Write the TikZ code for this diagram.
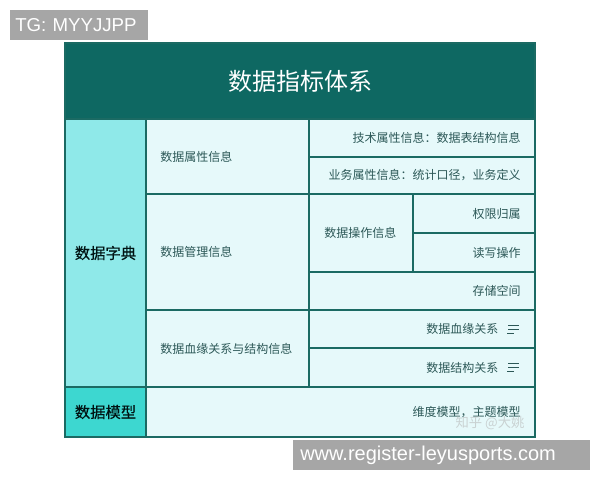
\documentclass[tikz,border=0pt]{standalone}
\usepackage{fontspec}
\setmainfont{Noto Sans CJK SC}
\newfontfamily\headfont[FakeBold=0.3]{Noto Sans CJK SC}
\newfontfamily\latinfont{Liberation Sans}
\usetikzlibrary{positioning}

\definecolor{headteal}{HTML}{0E6862}
\definecolor{gridteal}{HTML}{1B6A63}
\definecolor{dictcyan}{HTML}{8FE9E9}
\definecolor{modelcyan}{HTML}{3DD7D0}
\definecolor{palecell}{HTML}{E6F9FA}
\definecolor{celltext}{HTML}{2C5857}
\definecolor{tagbox}{HTML}{A6A6A6}

\tikzset{
  cell/.style 2 args={draw=gridteal, line width=1.4pt, fill=palecell,
    inner sep=0pt, minimum width=#1*0.75pt, minimum height=#2*0.75pt},
  note/.style={inner sep=0pt, text=celltext, font=\fontsize{9pt}{10pt}\selectfont},
  head/.style={inner sep=0pt, text=black!85!teal, font=\headfont\fontsize{11.5pt}{12pt}\selectfont},
  tag/.style={fill=tagbox, text=white, inner ysep=0pt, minimum height=22.5pt,
    align=left, font=\latinfont\fontsize{14pt}{15pt}\selectfont},
  iconline/.style={draw=celltext, line width=0.6pt}
}

\begin{document}
\begin{tikzpicture}[x=0.75pt, y=-0.75pt]
\useasboundingbox[fill=white] (0,0) rectangle (600,480);

% title row
\node[cell={470}{76}, fill=headteal] (title) at (300,81) {};
\node[inner sep=0pt, text=white, font=\fontsize{18pt}{20pt}\selectfont]
    (titletext) at (title.center) {数据指标体系};

% first column
\node[cell={81}{268}, fill=dictcyan] (dict) at (105.5,253) {};
\node[cell={81}{50}, fill=modelcyan] (model) at (105.5,412) {};
\node[head] (dicttext) at (dict.center) {数据字典};
\node[head] (modeltext) at (model.center) {数据模型};

% second column
\node[cell={163}{75}] (attr) at (227.5,156.5) {};
\node[cell={163}{116}] (mgmt) at (227.5,252) {};
\node[cell={163}{77}] (lineage) at (227.5,348.5) {};
\node[note, right=11.25pt of attr.west] (attrtext) {数据属性信息};
\node[note, right=11.25pt of mgmt.west] (mgmttext) {数据管理信息};
\node[note, right=11.25pt of lineage.west] (lineagetext) {数据血缘关系与结构信息};

% third column
\node[cell={226}{38}] (tech) at (422,138) {};
\node[cell={226}{37}] (biz) at (422,175.5) {};
\node[cell={104}{78}] (ops) at (361,233) {};
\node[cell={122}{39}] (perm) at (474,213.5) {};
\node[cell={122}{39}] (rw) at (474,252.5) {};
\node[cell={226}{38}] (store) at (422,291) {};
\node[cell={226}{38}] (lin) at (422,329) {};
\node[cell={226}{39}] (strc) at (422,367.5) {};
\node[cell={389}{50}] (modelbody) at (340.5,412) {};

\node[note, left=11.25pt of tech.east] (techtext) {技术属性信息：数据表结构信息};
\node[note, left=11.25pt of biz.east] (biztext) {业务属性信息：统计口径，业务定义};
\node[note, right=12pt of ops.west] (opstext) {数据操作信息};
\node[note, left=11.25pt of perm.east] (permtext) {权限归属};
\node[note, left=11.25pt of rw.east] (rwtext) {读写操作};
\node[note, left=11.25pt of store.east] (storetext) {存储空间};
\node[note, left=28pt of lin.east] (lintext) {数据血缘关系};
\node[note, left=28pt of strc.east] (strctext) {数据结构关系};
\node[note, left=11.25pt of modelbody.east] (modeltext) {维度模型，主题模型};

% list icons
\foreach \c in {lin, strc} {
  \draw[iconline] ([xshift=-12.75pt, yshift=3pt]\c.east) -- ++(-11,0);
  \draw[iconline] ([xshift=-12.75pt]\c.east) -- ++(-11,0);
  \draw[iconline] ([xshift=-16.5pt, yshift=-3pt]\c.east) -- ++(-7,0);
}

% watermark
\node[inner sep=0pt, text=gray!60, opacity=0.55,
    font=\fontsize{10pt}{11pt}\selectfont] (mark) at (490,423) {知乎 @大姚};

% tags
\node[tag, anchor=north west, inner xsep=3.75pt, text width=96pt]
    (tagtop) at (10,10) {TG: MYYJJPP};
\node[tag, anchor=north west, inner xsep=5.25pt, text width=212.25pt,
    font=\latinfont\fontsize{15pt}{16pt}\selectfont]
    (tagbottom) at (293,440) {www.register-leyusports.com};
\end{tikzpicture}
\end{document}
